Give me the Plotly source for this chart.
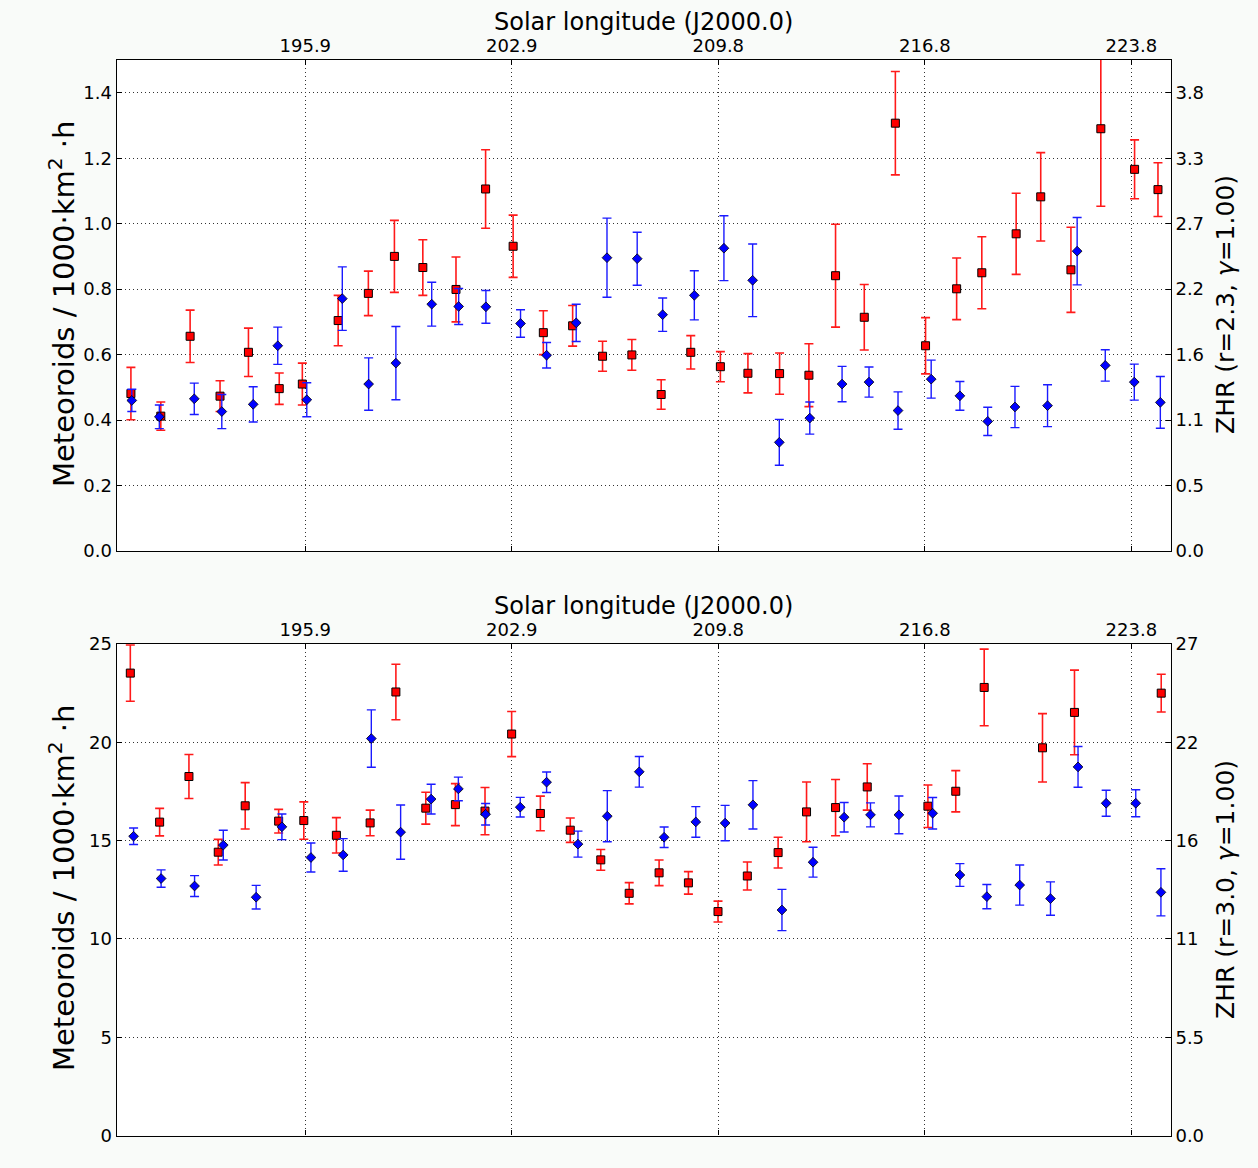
import plotly.graph_objects as go

# ---------------- data ----------------
tick_lon = [195.9, 202.875, 209.85, 216.825, 223.8]
tick_lon_text = ["195.9", "202.9", "209.8", "216.8", "223.8"]

# top panel (r=2.3)
top_red_lon = [190.01, 191.02, 192.01, 193.02, 193.98, 195.02, 195.80, 197.01, 198.03, 198.91,
               199.87, 200.99, 201.99, 202.92, 203.94, 204.93, 205.94, 206.93, 207.92, 208.92,
               209.92, 210.85, 211.92, 212.91, 213.81, 214.78, 215.83, 216.85, 217.90, 218.75,
               219.91, 220.74, 221.76, 222.77, 223.91, 224.70]
top_red_val = [0.481, 0.412, 0.656, 0.473, 0.607, 0.496, 0.510, 0.704, 0.787, 0.900,
               0.866, 0.799, 1.106, 0.931, 0.667, 0.688, 0.595, 0.599, 0.478, 0.607,
               0.563, 0.543, 0.542, 0.537, 0.841, 0.714, 1.307, 0.627, 0.801, 0.850,
               0.969, 1.082, 0.859, 1.290, 1.166, 1.104]
top_red_err = [0.080, 0.043, 0.080, 0.047, 0.074, 0.048, 0.064, 0.077, 0.068, 0.110,
               0.085, 0.099, 0.120, 0.095, 0.067, 0.062, 0.046, 0.047, 0.045, 0.051,
               0.046, 0.060, 0.063, 0.096, 0.157, 0.100, 0.158, 0.086, 0.094, 0.110,
               0.124, 0.135, 0.130, 0.237, 0.090, 0.082]

top_blue_lon = [190.04, 190.97, 192.15, 193.08, 194.14, 194.97, 195.95, 197.15, 198.04, 198.96,
                200.17, 201.08, 202.00, 203.17, 204.05, 205.05, 206.09, 207.11, 207.97, 209.04,
                210.04, 211.01, 211.91, 212.94, 214.03, 214.94, 215.92, 217.04, 218.01, 218.95,
                219.87, 220.97, 221.97, 222.92, 223.90, 224.78]
top_blue_val = [0.460, 0.410, 0.465, 0.426, 0.448, 0.627, 0.462, 0.771, 0.510, 0.574,
                0.754, 0.747, 0.746, 0.695, 0.598, 0.697, 0.896, 0.893, 0.722, 0.781,
                0.925, 0.827, 0.332, 0.406, 0.510, 0.516, 0.429, 0.525, 0.474, 0.396,
                0.440, 0.444, 0.916, 0.567, 0.516, 0.454]
top_blue_err = [0.034, 0.036, 0.048, 0.052, 0.054, 0.057, 0.052, 0.097, 0.080, 0.112,
                0.067, 0.055, 0.050, 0.042, 0.039, 0.057, 0.121, 0.081, 0.051, 0.075,
                0.099, 0.111, 0.070, 0.049, 0.054, 0.046, 0.057, 0.058, 0.044, 0.043,
                0.063, 0.064, 0.103, 0.048, 0.055, 0.079]

top_left_ticks = [0.0, 0.2, 0.4, 0.6, 0.8, 1.0, 1.2, 1.4]
top_left_text = ["0.0", "0.2", "0.4", "0.6", "0.8", "1.0", "1.2", "1.4"]
top_right_text = ["0.0", "0.5", "1.1", "1.6", "2.2", "2.7", "3.3", "3.8"]

# bottom panel (r=3.0)
bot_red_lon = [189.99, 190.98, 191.97, 192.96, 193.87, 195.00, 195.85, 196.95, 198.09, 198.96,
               199.97, 200.97, 201.97, 202.87, 203.84, 204.85, 205.88, 206.84, 207.85, 208.84,
               209.84, 210.83, 211.87, 212.83, 213.81, 214.88, 215.83, 216.93, 217.87, 218.83,
               219.91, 220.80, 221.88, 222.77, 223.91, 224.81]
bot_red_val = [23.52, 15.94, 18.26, 14.41, 16.77, 15.99, 16.02, 15.27, 15.90, 22.56,
               16.65, 16.83, 16.50, 20.42, 16.38, 15.53, 14.02, 12.32, 13.36, 12.85,
               11.39, 13.20, 14.39, 16.46, 16.68, 17.73, None, 16.75, 17.51, 22.79,
               None, 19.72, 21.52, None, None, 22.50]
bot_red_err = [1.43, 0.70, 1.12, 0.65, 1.18, 0.60, 0.95, 0.90, 0.65, 1.41,
               0.81, 1.07, 1.20, 1.15, 0.88, 0.62, 0.53, 0.54, 0.65, 0.57,
               0.53, 0.71, 0.78, 1.52, 1.43, 1.18, 0.0, 1.08, 1.05, 1.95,
               0.0, 1.74, 2.15, 0.0, 0.0, 0.96]

bot_blue_lon = [190.10, 191.03, 192.16, 193.13, 194.24, 195.11, 196.09, 197.18, 198.13, 199.12,
                200.15, 201.07, 201.99, 203.16, 204.05, 205.11, 206.10, 207.18, 208.02, 209.09,
                210.08, 211.02, 212.00, 213.05, 214.10, 214.99, 215.95, 217.09, 218.01, 218.92,
                220.03, 221.07, 222.00, 222.95, 223.95, 224.80]
bot_blue_val = [15.22, 13.07, 12.69, 14.77, 12.12, 15.70, 14.14, 14.27, 20.19, 15.43,
                17.11, 17.63, 16.34, 16.70, 17.97, 14.82, 16.24, 18.50, 15.17, 15.95,
                15.89, 16.82, 11.47, 13.90, 16.19, 16.31, 16.31, 16.39, 13.25, 12.15,
                12.74, 12.05, 18.75, 16.90, 16.90, 12.37]
bot_blue_err = [0.42, 0.44, 0.53, 0.76, 0.60, 0.65, 0.74, 0.83, 1.46, 1.38,
                0.76, 0.60, 0.55, 0.50, 0.52, 0.66, 1.30, 0.78, 0.52, 0.78,
                0.90, 1.23, 1.05, 0.76, 0.75, 0.61, 0.96, 0.80, 0.58, 0.62,
                1.02, 0.85, 1.04, 0.66, 0.69, 1.20]

bot_left_ticks = [0, 5, 10, 15, 20, 25]
bot_left_text = ["0", "5", "10", "15", "20", "25"]
bot_right_text = ["0.0", "5.5", "11", "16", "22", "27"]

x_title = "Solar longitude (J2000.0)"
y_title = "Meteoroids / 1000·km<sup>2</sup> ·h"
zhr_top = "ZHR (r=2.3, <i>γ</i>=1.00)"
zhr_bot = "ZHR (r=3.0, <i>γ</i>=1.00)"

# ---------------- styling ----------------
W, H = 1258, 1168
FONT = "DejaVu Sans"
x_left, x_right = 116.7, 1170.7
top_y0, top_y1 = 60, 551
bot_y0, bot_y1 = 644, 1135.5
x_dom = [x_left / W, x_right / W]
top_dom = [1 - top_y1 / H, 1 - top_y0 / H]
bot_dom = [1 - bot_y1 / H, 1 - bot_y0 / H]
x_range = [189.53, 225.13]

GRID = "#333333"
DASH = "1px,3px"


def red_trace(x, y, e, xa, ya):
    return go.Scatter(
        x=x, y=y, xaxis=xa, yaxis=ya, mode="markers",
        marker=dict(symbol="square", size=8, color="#ff0000",
                    line=dict(color="black", width=1)),
        error_y=dict(type="data", array=e, visible=True, color="#ff1a1a",
                     thickness=1.6, width=4.5),
        showlegend=False, cliponaxis=False)


def blue_trace(x, y, e, xa, ya):
    return go.Scatter(
        x=x, y=y, xaxis=xa, yaxis=ya, mode="markers",
        marker=dict(symbol="diamond", size=7.5, color="#0000ff",
                    line=dict(color="black", width=0.8)),
        error_y=dict(type="data", array=e, visible=True, color="#1a1aff",
                     thickness=1.4, width=4.5),
        showlegend=False, cliponaxis=False)


fig = go.Figure()
fig.add_trace(red_trace(top_red_lon, top_red_val, top_red_err, "x", "y"))
fig.add_trace(blue_trace(top_blue_lon, top_blue_val, top_blue_err, "x", "y2"))
fig.add_trace(red_trace(bot_red_lon, bot_red_val, bot_red_err, "x2", "y3"))
fig.add_trace(blue_trace(bot_blue_lon, bot_blue_val, bot_blue_err, "x2", "y4"))

tickfont = dict(family=FONT, size=18, color="black")


def xaxis(anchor):
    return dict(domain=x_dom, anchor=anchor, side="top", range=x_range,
                tickmode="array", tickvals=tick_lon, ticktext=tick_lon_text,
                ticks="inside", ticklen=5, tickcolor="black", tickwidth=1,
                showline=True, linecolor="black", linewidth=1.3, mirror="ticks",
                showgrid=True, gridcolor=GRID, gridwidth=1, griddash=DASH,
                zeroline=False, tickfont=tickfont, automargin=False)


def yleft(dom, anchor, rng, tv, tt):
    return dict(domain=dom, anchor=anchor, range=rng, tickmode="array",
                tickvals=tv, ticktext=tt, ticks="inside", ticklen=5,
                tickcolor="black", tickwidth=1, showline=True, linecolor="black",
                linewidth=1.3, mirror=True, showgrid=True, gridcolor=GRID,
                gridwidth=1, griddash=DASH, zeroline=False, tickfont=tickfont,
                automargin=False)


def yright(over, anchor, rng, tv, tt):
    return dict(overlaying=over, anchor=anchor, side="right", range=rng,
                tickmode="array", tickvals=tv, ticktext=tt, ticks="inside",
                ticklen=5, tickcolor="black", tickwidth=1, showline=True,
                linecolor="black", linewidth=1.3, showgrid=False, zeroline=False,
                tickfont=tickfont, automargin=False)


fig.update_layout(
    template="none",
    width=W, height=H,
    margin=dict(l=0, r=0, t=0, b=0, pad=0, autoexpand=False),
    paper_bgcolor="#f9fbf9",
    plot_bgcolor="#ffffff",
    font=dict(family=FONT, color="black"),
    showlegend=False,
    xaxis=xaxis("y"),
    yaxis=yleft(top_dom, "x", [0, 1.5], top_left_ticks, top_left_text),
    yaxis2=yright("y", "x", [0, 1.5], top_left_ticks, top_right_text),
    xaxis2=xaxis("y3"),
    yaxis3=yleft(bot_dom, "x2", [0, 25], bot_left_ticks, bot_left_text),
    yaxis4=yright("y3", "x2", [0, 25], bot_left_ticks, bot_right_text),
)

ann = []
xc = (x_left + x_right) / 2 / W
for yc in (22, 606):
    ann.append(dict(text=x_title, x=xc, y=1 - yc / H, xref="paper", yref="paper",
                    showarrow=False, xanchor="center", yanchor="middle",
                    font=dict(family=FONT, size=24, color="black")))
for yc in (304, 888):
    ann.append(dict(text=y_title, x=62 / W, y=1 - yc / H, xref="paper", yref="paper",
                    showarrow=False, textangle=-90, xanchor="center", yanchor="middle",
                    font=dict(family=FONT, size=29, color="black")))
for yc, t in ((305, zhr_top), (890, zhr_bot)):
    ann.append(dict(text=t, x=1225 / W, y=1 - yc / H, xref="paper", yref="paper",
                    showarrow=False, textangle=-90, xanchor="center", yanchor="middle",
                    font=dict(family=FONT, size=25, color="black")))
fig.update_layout(annotations=ann)

fig.write_html("out.html")
